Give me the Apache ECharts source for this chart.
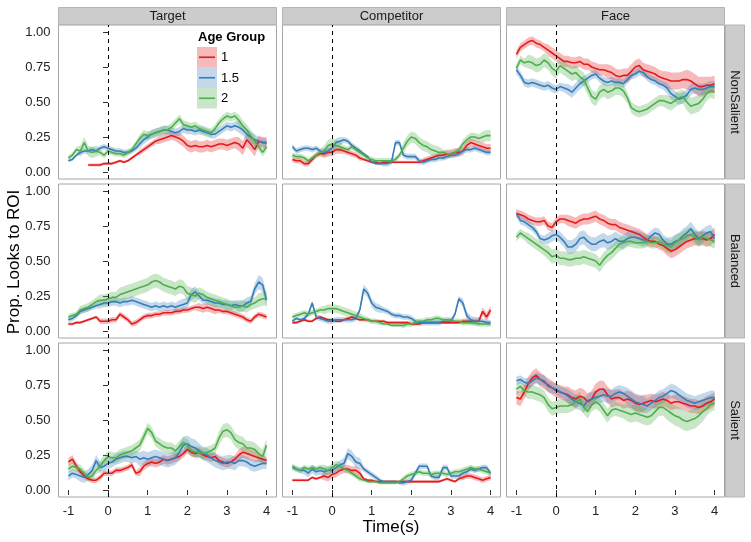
<!DOCTYPE html>
<html><head><meta charset="utf-8">
<script src="https://cdn.jsdelivr.net/npm/echarts@6/dist/echarts.min.js"></script>
<style>html,body{margin:0;padding:0;background:#fff}#chart{width:751px;height:542px}</style>
</head><body><div id="chart"></div>
<script>
// ---------- DATA ----------
const categories = ["Target", "Competitor", "Face"];
const conditions = ["NonSalient", "Balanced", "Salient"];
const groups = ["1", "1.5", "2"];
const xTicks = [-1, 0, 1, 2, 3, 4];
const yTicks = [0, 0.25, 0.5, 0.75, 1];
const times = [-1,-0.9,-0.8,-0.7,-0.6,-0.5,-0.4,-0.3,-0.2,-0.1,0,0.1,0.2,0.3,0.4,0.5,0.6,0.7,0.8,0.9,1,1.1,1.2,1.3,1.4,1.5,1.6,1.7,1.8,1.9,2,2.1,2.2,2.3,2.4,2.5,2.6,2.7,2.8,2.9,3,3.1,3.2,3.3,3.4,3.5,3.6,3.7,3.8,3.9,4];
const seTimes = [-1,-0.5,0,0.5,1,1.5,2,2.5,3,3.5,4];

// Target / NonSalient
const tNS_1  = [null,null,null,null,null,0.05,0.05,0.05,0.05,0.06,0.06,0.06,0.07,0.08,0.07,0.08,0.10,0.12,0.14,0.16,0.18,0.20,0.22,0.23,0.24,0.25,0.26,0.25,0.24,0.22,0.19,0.18,0.19,0.18,0.18,0.19,0.18,0.19,0.20,0.20,0.19,0.20,0.21,0.20,0.17,0.23,0.20,0.16,0.22,0.21,0.21];
const tNS_15 = [0.08,0.09,0.12,0.14,0.15,0.15,0.16,0.15,0.17,0.18,0.17,0.16,0.15,0.15,0.14,0.14,0.15,0.17,0.20,0.23,0.25,0.27,0.28,0.29,0.30,0.30,0.29,0.28,0.29,0.31,0.30,0.30,0.29,0.30,0.29,0.28,0.27,0.27,0.29,0.31,0.33,0.32,0.33,0.32,0.30,0.27,0.25,0.23,0.22,0.21,0.21];
const tNS_2  = [0.10,0.12,0.16,0.15,0.21,0.15,0.14,0.15,0.14,0.12,0.15,0.14,0.13,0.13,0.12,0.14,0.16,0.20,0.24,0.27,0.26,0.27,0.28,0.29,0.30,0.30,0.32,0.35,0.38,0.34,0.33,0.32,0.33,0.31,0.30,0.29,0.28,0.31,0.35,0.38,0.40,0.39,0.40,0.37,0.33,0.30,0.26,0.22,0.18,0.14,0.18];
const tNS_1_se  = [0.01,0.01,0.01,0.01,0.02,0.03,0.04,0.04,0.04,0.05,0.04];
const tNS_15_se = [0.01,0.02,0.02,0.02,0.03,0.03,0.03,0.03,0.03,0.04,0.03];
const tNS_2_se  = [0.02,0.04,0.02,0.02,0.03,0.03,0.03,0.03,0.03,0.04,0.03];

// Competitor / NonSalient
const cNS_1  = [0.09,0.08,0.08,0.06,0.06,0.09,0.12,0.13,0.13,0.14,0.14,0.16,0.16,0.15,0.14,0.13,0.12,0.10,0.09,0.08,0.07,0.07,0.06,0.07,0.07,0.07,0.07,0.07,0.07,0.07,0.07,0.07,0.07,0.08,0.09,0.10,0.11,0.12,0.12,0.13,0.13,0.14,0.14,0.15,0.19,0.21,0.20,0.19,0.18,0.17,0.17];
const cNS_15 = [0.18,0.15,0.16,0.17,0.17,0.16,0.17,0.15,0.14,0.15,0.17,0.21,0.22,0.23,0.22,0.19,0.17,0.15,0.13,0.11,0.07,0.06,0.06,0.06,0.06,0.07,0.21,0.21,0.12,0.11,0.11,0.11,0.08,0.07,0.08,0.09,0.09,0.10,0.10,0.11,0.12,0.12,0.13,0.15,0.16,0.16,0.17,0.16,0.15,0.14,0.14];
const cNS_2  = [0.12,0.11,0.11,0.10,0.08,0.10,0.12,0.14,0.15,0.19,0.20,0.19,0.18,0.17,0.16,0.18,0.16,0.14,0.12,0.10,0.09,0.08,0.08,0.08,0.08,0.08,0.09,0.12,0.17,0.22,0.25,0.24,0.21,0.19,0.18,0.16,0.15,0.14,0.14,0.13,0.13,0.14,0.16,0.20,0.23,0.25,0.25,0.24,0.25,0.26,0.26];
const cNS_1_se  = [0.02,0.02,0.03,0.02,0.01,0.01,0.01,0.02,0.03,0.03,0.03];
const cNS_15_se = [0.02,0.02,0.03,0.02,0.01,0.02,0.02,0.02,0.02,0.02,0.02];
const cNS_2_se  = [0.02,0.02,0.04,0.02,0.02,0.02,0.04,0.04,0.02,0.03,0.04];

// Face / NonSalient
const fNS_1  = [0.84,0.89,0.91,0.93,0.94,0.92,0.91,0.89,0.87,0.85,0.83,0.81,0.79,0.79,0.78,0.78,0.79,0.77,0.77,0.75,0.74,0.73,0.73,0.72,0.71,0.69,0.68,0.69,0.69,0.72,0.75,0.76,0.73,0.72,0.71,0.70,0.68,0.67,0.66,0.65,0.65,0.65,0.66,0.66,0.65,0.63,0.61,0.61,0.62,0.62,0.63];
const fNS_15 = [0.73,0.69,0.64,0.63,0.64,0.63,0.62,0.61,0.62,0.60,0.59,0.61,0.60,0.59,0.57,0.60,0.63,0.65,0.67,0.69,0.70,0.67,0.65,0.64,0.65,0.64,0.64,0.63,0.66,0.69,0.70,0.72,0.71,0.68,0.66,0.65,0.63,0.62,0.60,0.56,0.54,0.52,0.53,0.55,0.59,0.60,0.59,0.59,0.60,0.61,0.61];
const fNS_2  = [0.74,0.80,0.78,0.79,0.78,0.76,0.77,0.80,0.78,0.74,0.72,0.76,0.74,0.72,0.70,0.71,0.68,0.66,0.60,0.54,0.52,0.57,0.59,0.57,0.58,0.60,0.60,0.58,0.53,0.46,0.44,0.43,0.44,0.45,0.47,0.49,0.51,0.51,0.50,0.49,0.51,0.53,0.54,0.50,0.47,0.48,0.49,0.52,0.56,0.58,0.57];
const fNS_1_se  = [0.03,0.03,0.04,0.04,0.04,0.05,0.05,0.05,0.06,0.07,0.06];
const fNS_15_se = [0.03,0.03,0.03,0.04,0.03,0.03,0.03,0.03,0.04,0.04,0.04];
const fNS_2_se  = [0.03,0.05,0.05,0.05,0.05,0.05,0.04,0.04,0.05,0.06,0.05];

// Target / Balanced
const tB_1  = [0.05,0.05,0.06,0.06,0.07,0.08,0.09,0.10,0.07,0.07,0.07,0.08,0.08,0.12,0.10,0.08,0.05,0.06,0.08,0.10,0.11,0.11,0.12,0.12,0.13,0.13,0.13,0.14,0.14,0.15,0.15,0.16,0.17,0.17,0.16,0.17,0.16,0.15,0.15,0.14,0.14,0.13,0.12,0.11,0.10,0.08,0.07,0.10,0.12,0.11,0.10];
const tB_15 = [0.08,0.09,0.11,0.14,0.15,0.16,0.17,0.18,0.19,0.20,0.20,0.21,0.21,0.20,0.21,0.21,0.22,0.21,0.20,0.19,0.18,0.17,0.18,0.17,0.18,0.17,0.18,0.17,0.18,0.19,0.20,0.26,0.28,0.25,0.22,0.22,0.21,0.20,0.20,0.19,0.19,0.18,0.19,0.18,0.18,0.20,0.21,0.30,0.35,0.33,0.22];
const tB_2  = [0.10,0.11,0.12,0.15,0.16,0.17,0.19,0.21,0.22,0.22,0.23,0.24,0.24,0.26,0.27,0.28,0.29,0.30,0.31,0.32,0.33,0.35,0.36,0.35,0.33,0.32,0.31,0.30,0.32,0.31,0.27,0.26,0.25,0.27,0.26,0.24,0.23,0.22,0.21,0.20,0.19,0.18,0.17,0.17,0.18,0.17,0.19,0.20,0.22,0.23,0.23];
const tB_1_se  = [0.01,0.01,0.02,0.02,0.02,0.02,0.02,0.03,0.02,0.02,0.02];
const tB_15_se = [0.02,0.02,0.03,0.03,0.03,0.03,0.04,0.03,0.03,0.04,0.05];
const tB_2_se  = [0.02,0.03,0.04,0.05,0.05,0.05,0.05,0.04,0.04,0.04,0.05];

// Competitor / Balanced
const cB_1  = [0.06,0.06,0.07,0.08,0.07,0.07,0.09,0.10,0.09,0.08,0.08,0.07,0.07,0.08,0.09,0.10,0.09,0.08,0.08,0.08,0.07,0.07,0.07,0.07,0.06,0.06,0.06,0.06,0.06,0.06,0.05,0.05,0.05,0.06,0.06,0.06,0.06,0.06,0.06,0.06,0.06,0.06,0.06,0.07,0.07,0.07,0.07,0.07,0.14,0.10,0.15];
const cB_15 = [0.07,0.09,0.08,0.09,0.12,0.20,0.10,0.09,0.08,0.07,0.07,0.08,0.08,0.08,0.08,0.08,0.09,0.15,0.30,0.27,0.20,0.17,0.16,0.15,0.14,0.12,0.11,0.11,0.10,0.10,0.09,0.07,0.06,0.06,0.06,0.06,0.06,0.06,0.07,0.07,0.07,0.12,0.23,0.20,0.11,0.08,0.07,0.07,0.07,0.06,0.06];
const cB_2  = [0.10,0.11,0.12,0.13,0.12,0.13,0.14,0.15,0.15,0.16,0.16,0.16,0.15,0.14,0.13,0.12,0.11,0.10,0.09,0.08,0.07,0.07,0.06,0.05,0.05,0.04,0.04,0.04,0.04,0.05,0.05,0.06,0.07,0.07,0.08,0.08,0.09,0.09,0.08,0.08,0.08,0.07,0.07,0.06,0.06,0.06,0.06,0.05,0.05,0.05,0.05];
const cB_1_se  = [0.01,0.01,0.01,0.01,0.01,0.01,0.01,0.01,0.01,0.02,0.03];
const cB_15_se = [0.01,0.02,0.02,0.02,0.03,0.02,0.02,0.02,0.02,0.03,0.02];
const cB_2_se  = [0.02,0.02,0.03,0.03,0.02,0.01,0.02,0.02,0.02,0.02,0.02];

// Face / Balanced
const fB_1  = [0.84,0.83,0.82,0.80,0.79,0.78,0.78,0.79,0.75,0.74,0.78,0.80,0.80,0.79,0.78,0.77,0.79,0.80,0.80,0.81,0.82,0.80,0.79,0.77,0.76,0.76,0.74,0.73,0.72,0.71,0.70,0.69,0.67,0.65,0.64,0.64,0.62,0.61,0.59,0.57,0.58,0.60,0.62,0.64,0.65,0.66,0.66,0.66,0.65,0.66,0.69];
const fB_15 = [0.84,0.79,0.78,0.76,0.74,0.71,0.66,0.65,0.66,0.68,0.69,0.67,0.64,0.60,0.60,0.62,0.66,0.67,0.64,0.62,0.62,0.64,0.65,0.63,0.64,0.66,0.64,0.64,0.66,0.67,0.67,0.66,0.65,0.65,0.68,0.70,0.69,0.65,0.62,0.62,0.64,0.65,0.68,0.70,0.73,0.69,0.66,0.68,0.70,0.71,0.66];
const fB_2  = [0.67,0.70,0.68,0.66,0.64,0.62,0.60,0.58,0.56,0.53,0.54,0.52,0.52,0.51,0.51,0.52,0.52,0.53,0.52,0.51,0.50,0.47,0.51,0.54,0.56,0.59,0.62,0.63,0.64,0.64,0.63,0.63,0.63,0.64,0.63,0.63,0.64,0.62,0.61,0.60,0.63,0.65,0.66,0.68,0.69,0.67,0.65,0.67,0.66,0.65,0.64];
const fB_1_se  = [0.03,0.03,0.03,0.04,0.04,0.04,0.04,0.04,0.05,0.05,0.05];
const fB_15_se = [0.03,0.03,0.04,0.05,0.05,0.05,0.05,0.04,0.05,0.05,0.05];
const fB_2_se  = [0.03,0.04,0.05,0.05,0.05,0.05,0.04,0.04,0.05,0.05,0.05];

// Target / Salient
const tS_1  = [0.20,0.22,0.17,0.13,0.10,0.08,0.07,0.07,0.09,0.12,0.12,0.12,0.14,0.14,0.15,0.16,0.18,0.12,0.13,0.17,0.19,0.20,0.19,0.20,0.22,0.21,0.22,0.23,0.24,0.26,0.29,0.27,0.26,0.27,0.25,0.24,0.23,0.24,0.21,0.20,0.19,0.20,0.22,0.25,0.27,0.26,0.25,0.24,0.23,0.22,0.21];
const tS_15 = [0.10,0.12,0.11,0.10,0.09,0.11,0.14,0.21,0.16,0.17,0.19,0.20,0.22,0.23,0.24,0.24,0.23,0.24,0.22,0.23,0.22,0.23,0.24,0.23,0.22,0.21,0.22,0.23,0.27,0.32,0.33,0.31,0.30,0.28,0.26,0.25,0.23,0.21,0.20,0.19,0.20,0.20,0.19,0.21,0.21,0.20,0.18,0.17,0.18,0.19,0.19];
const tS_2  = [0.15,0.17,0.16,0.15,0.12,0.09,0.10,0.14,0.17,0.21,0.24,0.23,0.23,0.25,0.26,0.27,0.28,0.30,0.32,0.38,0.44,0.41,0.35,0.33,0.31,0.30,0.30,0.28,0.31,0.34,0.32,0.28,0.27,0.27,0.26,0.27,0.28,0.30,0.37,0.42,0.43,0.41,0.36,0.34,0.33,0.30,0.30,0.29,0.26,0.24,0.32];
const tS_1_se  = [0.03,0.02,0.02,0.02,0.03,0.03,0.03,0.03,0.03,0.04,0.03];
const tS_15_se = [0.03,0.04,0.04,0.04,0.05,0.05,0.06,0.05,0.05,0.04,0.04];
const tS_2_se  = [0.03,0.03,0.04,0.04,0.04,0.04,0.04,0.04,0.05,0.05,0.05];

// Competitor / Salient
const cS_1  = [0.07,0.07,0.07,0.07,0.07,0.09,0.08,0.09,0.10,0.09,0.11,0.12,0.14,0.15,0.15,0.14,0.14,0.12,0.08,0.07,0.07,0.06,0.06,0.06,0.06,0.06,0.06,0.06,0.06,0.06,0.06,0.06,0.06,0.06,0.06,0.06,0.06,0.06,0.07,0.08,0.07,0.06,0.08,0.09,0.10,0.10,0.09,0.08,0.07,0.08,0.09];
const cS_15 = [0.16,0.15,0.14,0.14,0.12,0.15,0.13,0.14,0.13,0.14,0.14,0.16,0.18,0.19,0.26,0.24,0.20,0.19,0.15,0.13,0.11,0.09,0.07,0.06,0.06,0.06,0.06,0.05,0.05,0.06,0.07,0.12,0.17,0.17,0.17,0.10,0.09,0.09,0.16,0.16,0.10,0.10,0.10,0.12,0.13,0.15,0.14,0.15,0.16,0.16,0.12];
const cS_2  = [0.17,0.15,0.14,0.16,0.15,0.16,0.15,0.16,0.15,0.14,0.16,0.18,0.17,0.15,0.14,0.12,0.10,0.08,0.07,0.06,0.06,0.06,0.05,0.05,0.05,0.05,0.05,0.06,0.08,0.10,0.11,0.12,0.13,0.12,0.12,0.11,0.12,0.12,0.12,0.11,0.12,0.13,0.13,0.14,0.15,0.16,0.15,0.15,0.14,0.13,0.12];
const cS_1_se  = [0.01,0.01,0.03,0.03,0.01,0.01,0.01,0.01,0.01,0.02,0.02];
const cS_15_se = [0.02,0.03,0.03,0.04,0.02,0.01,0.02,0.02,0.02,0.02,0.02];
const cS_2_se  = [0.02,0.02,0.03,0.02,0.01,0.01,0.02,0.02,0.02,0.02,0.02];

// Face / Salient
const fS_1  = [0.66,0.65,0.70,0.76,0.80,0.82,0.79,0.77,0.75,0.73,0.71,0.70,0.69,0.68,0.66,0.65,0.67,0.66,0.63,0.65,0.70,0.72,0.72,0.68,0.65,0.66,0.66,0.64,0.65,0.64,0.62,0.61,0.62,0.63,0.64,0.63,0.64,0.65,0.64,0.62,0.63,0.63,0.62,0.61,0.60,0.60,0.59,0.60,0.62,0.63,0.65];
const fS_15 = [0.78,0.79,0.77,0.76,0.78,0.80,0.79,0.78,0.74,0.73,0.72,0.70,0.69,0.67,0.65,0.63,0.62,0.60,0.64,0.65,0.66,0.67,0.68,0.67,0.67,0.69,0.70,0.69,0.67,0.65,0.63,0.62,0.61,0.60,0.62,0.64,0.66,0.67,0.69,0.71,0.70,0.68,0.66,0.64,0.63,0.62,0.63,0.64,0.65,0.66,0.66];
const fS_2  = [0.72,0.74,0.71,0.70,0.70,0.69,0.68,0.66,0.61,0.58,0.59,0.60,0.60,0.60,0.61,0.63,0.65,0.59,0.56,0.61,0.63,0.61,0.57,0.53,0.57,0.58,0.57,0.56,0.55,0.54,0.55,0.54,0.53,0.52,0.53,0.56,0.59,0.59,0.57,0.55,0.53,0.52,0.50,0.49,0.50,0.51,0.53,0.56,0.58,0.61,0.62];
const fS_1_se  = [0.05,0.05,0.05,0.06,0.06,0.06,0.06,0.05,0.05,0.05,0.05];
const fS_15_se = [0.03,0.04,0.04,0.05,0.05,0.05,0.06,0.05,0.05,0.05,0.05];
const fS_2_se  = [0.04,0.05,0.05,0.05,0.05,0.05,0.06,0.06,0.07,0.07,0.05];

// ---------- LAYOUT / STYLE ----------
const colors = ['#E41A1C', '#377EB8', '#4DAF4A'];
const fills  = ['rgba(228,26,28,0.3)', 'rgba(55,126,184,0.3)', 'rgba(77,175,74,0.3)'];
const colLeft = [58.5, 282.5, 506.5];
const colWidth = 218;
const rowTop = [25, 184, 343];
const rowHeight = 154;
const FONT = '"Liberation Sans", Arial, sans-serif';

const panelMeans = [
  [tNS_1, tNS_15, tNS_2], [cNS_1, cNS_15, cNS_2], [fNS_1, fNS_15, fNS_2],
  [tB_1, tB_15, tB_2],    [cB_1, cB_15, cB_2],    [fB_1, fB_15, fB_2],
  [tS_1, tS_15, tS_2],    [cS_1, cS_15, cS_2],    [fS_1, fS_15, fS_2]
];
const panelSes = [
  [tNS_1_se, tNS_15_se, tNS_2_se], [cNS_1_se, cNS_15_se, cNS_2_se], [fNS_1_se, fNS_15_se, fNS_2_se],
  [tB_1_se, tB_15_se, tB_2_se],    [cB_1_se, cB_15_se, cB_2_se],    [fB_1_se, fB_15_se, fB_2_se],
  [tS_1_se, tS_15_se, tS_2_se],    [cS_1_se, cS_15_se, cS_2_se],    [fS_1_se, fS_15_se, fS_2_se]
];

function seAt(se, t) {
  let best = 0;
  for (let j = 1; j < seTimes.length; j++) if (Math.abs(seTimes[j] - t) < Math.abs(seTimes[best] - t) - 1e-9) best = j;
  return se[best];
}

const grids = [], xAxes = [], yAxes = [], series = [], graphics = [];
for (let r = 0; r < 3; r++) {
  for (let c = 0; c < 3; c++) {
    const k = r * 3 + c;
    grids.push({ left: colLeft[c], top: rowTop[r], width: colWidth, height: rowHeight,
      show: true, borderColor: '#A6A6A6', borderWidth: 1, backgroundColor: '#fff', containLabel: false });
    const bottom = r === 2, left = c === 0;
    xAxes.push({ gridIndex: k, type: 'value', min: -1.25, max: 4.25,
      axisLine: { show: false }, splitLine: { show: false },
      axisTick: { show: bottom, customValues: xTicks, length: 5, lineStyle: { color: '#333' } },
      axisLabel: { show: bottom, customValues: xTicks, margin: 8, color: '#222', fontSize: 13, fontFamily: FONT,
        formatter: v => String(v) } });
    yAxes.push({ gridIndex: k, type: 'value', min: -0.05, max: 1.05,
      axisLine: { show: false }, splitLine: { show: false },
      axisTick: { show: left, customValues: yTicks, length: 5, lineStyle: { color: '#333' } },
      axisLabel: { show: left, customValues: yTicks, margin: 8, color: '#222', fontSize: 13, fontFamily: FONT,
        formatter: v => v.toFixed(2) } });

    // ribbons (mean ± se), drawn through the axes' coordinate conversion
    for (let g = 0; g < 3; g++) {
      const m = panelMeans[k][g], se = panelSes[k][g];
      const rows = times.map((t, i) => m[i] == null ? [t, null, null]
        : [t, m[i] - seAt(se, t), m[i] + seAt(se, t)]);
      const fill = fills[g];
      series.push({ type: 'custom', xAxisIndex: k, yAxisIndex: k, silent: true, z: 1, animation: false,
        clip: true,
        data: rows.filter(rw => rw[1] != null).map(rw => [rw[0], rw[1], rw[2]]),
        encode: { x: 0, y: [1, 2] },
        renderItem: (params, api) => {
          if (params.dataIndex !== 0) return null;
          const children = [];
          let seg = [];
          const flush = () => {
            if (seg.length > 1) {
              const upper = seg.map(p => api.coord([p[0], p[2]]));
              const lower = seg.slice().reverse().map(p => api.coord([p[0], p[1]]));
              children.push({ type: 'polygon', shape: { points: upper.concat(lower) }, style: { fill: fill } });
            }
            seg = [];
          };
          rows.forEach(rw => { if (rw[1] == null) flush(); else seg.push(rw); });
          flush();
          return { type: 'group', children };
        } });
    }
    for (let g = 0; g < 3; g++) {
      const m = panelMeans[k][g];
      const s = { type: 'line', name: groups[g], xAxisIndex: k, yAxisIndex: k,
        data: times.map((t, i) => [t, m[i]]), symbol: 'none', silent: true,
        lineStyle: { color: colors[g], width: 1.6 }, z: 3, animation: false };
      if (g === 2) {
        s.markLine = { silent: true, symbol: ['none', 'none'], label: { show: false }, animation: false,
          lineStyle: { color: '#000', type: [4, 4], width: 1 }, data: [{ xAxis: 0 }] };
      }
      series.push(s);
    }
  }
}

// facet strips
for (let c = 0; c < 3; c++) {
  graphics.push({ type: 'rect', shape: { x: colLeft[c], y: 7.5, width: colWidth, height: 17 },
    style: { fill: '#CCCCCC', stroke: '#B5B5B5', lineWidth: 1 }, z: 10 });
  graphics.push({ type: 'text', x: colLeft[c] + colWidth / 2, y: 16.5,
    style: { text: categories[c], fill: '#1A1A1A', font: '13px ' + FONT, align: 'center', verticalAlign: 'middle' }, z: 11 });
}
for (let r = 0; r < 3; r++) {
  graphics.push({ type: 'rect', shape: { x: 725.5, y: rowTop[r], width: 19, height: rowHeight },
    style: { fill: '#CCCCCC', stroke: '#B5B5B5', lineWidth: 1 }, z: 10 });
  graphics.push({ type: 'text', x: 735, y: rowTop[r] + rowHeight / 2, rotation: -Math.PI / 2,
    style: { text: conditions[r], fill: '#1A1A1A', font: '13px ' + FONT, align: 'center', verticalAlign: 'middle' }, z: 11 });
}
// axis titles
graphics.push({ type: 'text', x: 391, y: 527,
  style: { text: 'Time(s)', fill: '#000', font: '17px ' + FONT, align: 'center', verticalAlign: 'middle' }, z: 11 });
graphics.push({ type: 'text', x: 14, y: 262, rotation: Math.PI / 2,
  style: { text: 'Prop. Looks to ROI', fill: '#000', font: '17px ' + FONT, align: 'center', verticalAlign: 'middle' }, z: 11 });
// legend
graphics.push({ type: 'text', x: 198, y: 37,
  style: { text: 'Age Group', fill: '#000', font: 'bold 13px ' + FONT, align: 'left', verticalAlign: 'middle' }, z: 11 });
const keyTops = [47, 67.5, 88];
for (let g = 0; g < 3; g++) {
  graphics.push({ type: 'rect', shape: { x: 197, y: keyTops[g], width: 20, height: 20.5 },
    style: { fill: fills[g], stroke: 'rgba(0,0,0,0)' }, z: 11 });
  graphics.push({ type: 'line', shape: { x1: 199, y1: keyTops[g] + 10.25, x2: 215, y2: keyTops[g] + 10.25 },
    style: { stroke: colors[g], lineWidth: 1.6 }, z: 12 });
  graphics.push({ type: 'text', x: 221, y: keyTops[g] + 10.5,
    style: { text: groups[g], fill: '#000', font: '13px ' + FONT, align: 'left', verticalAlign: 'middle' }, z: 12 });
}

const chart = echarts.init(document.getElementById('chart'), null, { renderer: 'canvas' });
chart.setOption({
  animation: false,
  backgroundColor: '#fff',
  grid: grids, xAxis: xAxes, yAxis: yAxes, series: series,
  graphic: { elements: graphics }
});
</script></body></html>
